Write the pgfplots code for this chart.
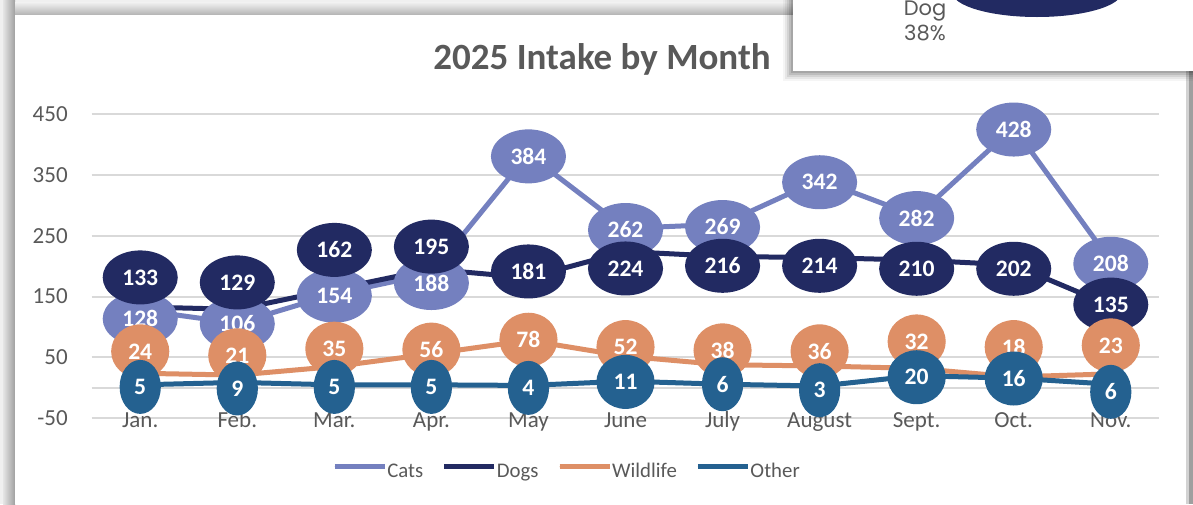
\documentclass[border=0pt]{standalone}
\usepackage{fontspec}
\setmainfont{Carlito}
\newfontfamily\gothic{Poppins}
\usepackage{pgfplots}
\pgfplotsset{compat=1.18}
\usepackage{pgfplotstable}
\usetikzlibrary{shapes.geometric}

\definecolor{catcol}{HTML}{7480BF}
\definecolor{dogcol}{HTML}{222A62}
\definecolor{wildcol}{HTML}{DE8F66}
\definecolor{othercol}{HTML}{246190}
\definecolor{gridgray}{HTML}{D9D9D9}
\definecolor{txtgray}{HTML}{595959}

% monthly intake, Jan. = 0 ... Nov. = 10
\pgfplotstableread{
x cats dogs wild other
0  128 133 24 5
1  106 129 21 9
2  154 162 35 5
3  188 195 56 5
4  384 181 78 4
5  262 224 52 11
6  269 216 38 6
7  342 214 36 3
8  282 210 32 20
9  428 202 18 16
10 208 135 23 6
}\intake

% where the bubbles sit (y) and what they say (v)
\pgfplotstableread{
x cy cv dy dv wy wv oy ov
0  113.5 128 181.5 133 60   24 1.6  5
1  105.3 106 173.3 129 53.5 21 -1   9
2  151.5 154 226.7 162 64.4 35 1.6  5
3  172.3 188 232.1 195 62.8 56 1.6  5
4  380.4 384 191.3 181 79.1 78 0    4
5  259.4 262 196.2 224 67   52 9.8  11
6  264.3 269 200.6 216 61.6 38 6    6
7  337.9 342 200.6 214 60   36 -3.8 3
8  279   282 195.7 210 76.3 32 17.5 20
9  424.5 428 195.7 202 67   18 15.4 16
10 203.9 208 136.8 135 69.8 23 -6.5 6
}\labels

\pgfplotsset{
  bubble/.style={draw=none, mark=none, forget plot,
    nodes near coords, point meta=explicit symbolic,
    every node near coord/.append style={ellipse, fill=#1, text=white,
      font=\bfseries\fontsize{11.8}{12}\selectfont,
      inner xsep=4.3pt, inner ysep=0pt, minimum height=27pt, anchor=center}},
}

\begin{document}
\begin{tikzpicture}
\useasboundingbox (0,0) rectangle (596.5pt,-252pt);
\clip (0,0) rectangle (596.5pt,-252pt);

% frame and shadows, in pixel units of the reference
\begin{scope}[x=0.5pt,y=-0.5pt]
  \fill[gray!12] (0,0) rectangle (1193,504);
  \shade[left color=gray!20, right color=gray!75] (3,0) rectangle (15,504);
  \shade[top color=gray!10, bottom color=gray!60] (15,2) rectangle (1193,15);
  \fill[white] (15,15) rectangle (1188,504);
  \fill[gray!35] (1186,15) rectangle (1189,504);
  \fill[gray!75] (1189,15) rectangle (1193,504);
  \node[anchor=base, text=txtgray, font=\bfseries\fontsize{18.5}{20}\selectfont]
    at (602,69) {2025 Intake by Month};
\end{scope}

\begin{axis}[
  at={(45.85pt,-209.15pt)}, anchor=south west,
  scale only axis, width=533.8pt, height=152.15pt,
  xmin=-0.5, xmax=10.5, ymin=-50, ymax=450,
  xtick={0,...,10},
  xticklabels={Jan.,Feb.,Mar.,Apr.,May,June,July,August,Sept.,Oct.,Nov.},
  ytick={-50,50,...,450},
  extra y ticks={0}, extra y tick labels={},
  extra y tick style={grid=major},
  ymajorgrids,
  grid style={line width=1pt, gridgray},
  axis line style={draw=none},
  tick style={draw=none},
  /pgf/number format/assume math mode=true,
  ticklabel style={font=\fontsize{11.5}{13}\selectfont, text=txtgray},
  yticklabel style={anchor=east, inner sep=0pt, xshift=-11.8pt},
  xticklabel style={anchor=base, inner sep=0pt, yshift=-4.4pt},
  clip=false,
  legend columns=4,
  legend style={at={(0.4443,-0.1760)}, anchor=center, draw=none, fill=none,
    font=\fontsize{10.4}{12}\selectfont, text=txtgray,
    /tikz/every even column/.append style={column sep=9.3pt},
    nodes={inner sep=0pt}},
  legend image code/.code={
    \draw[#1, line width=2.5pt, line cap=round] (1.25pt,2.6pt) -- (22.75pt,2.6pt);
    \path (0pt,2.6pt) -- (25pt,2.6pt);},
  every axis plot/.append style={line width=2.5pt, line join=round},
]
  \addplot[catcol, mark=none] table[x=x, y=cats] {\intake};
  \addlegendentry{Cats}
  \addplot[dogcol, mark=none] table[x=x, y=dogs] {\intake};
  \addlegendentry{Dogs}
  \addplot[wildcol, mark=none] table[x=x, y=wild] {\intake};
  \addlegendentry{Wildlife}
  \addplot[othercol, mark=none] table[x=x, y=other] {\intake};
  \addlegendentry{Other}

  \addplot[bubble=catcol] table[x=x, y=cy, meta=cv] {\labels};
  \addplot[bubble=dogcol] table[x=x, y=dy, meta=dv] {\labels};
  \addplot[bubble=wildcol] table[x=x, y=wy, meta=wv] {\labels};
  \addplot[bubble=othercol] table[x=x, y=oy, meta=ov] {\labels};
\end{axis}

% the pie card that overlaps the chart's top right corner
\begin{scope}[x=0.5pt,y=-0.5pt]
  \foreach \d/\o in {10/0.04,8/0.06,6/0.08,4/0.10,2/0.12}
    \fill[black, opacity=\o] (793-\d,-20) rectangle (1220,71+\d);
  \fill[white] (793,-20) rectangle (1220,71);
  \fill[dogcol] (1037,-8) ellipse [x radius=85, y radius=25];
  \node[anchor=base, text=txtgray, font=\gothic\fontsize{10.5}{12}\selectfont]
    at (925,15.5) {Dog};
  \node[anchor=base, text=txtgray, font=\gothic\fontsize{10.5}{12}\selectfont]
    at (925,40.5) {38\%};
\end{scope}
\end{tikzpicture}
\end{document}
